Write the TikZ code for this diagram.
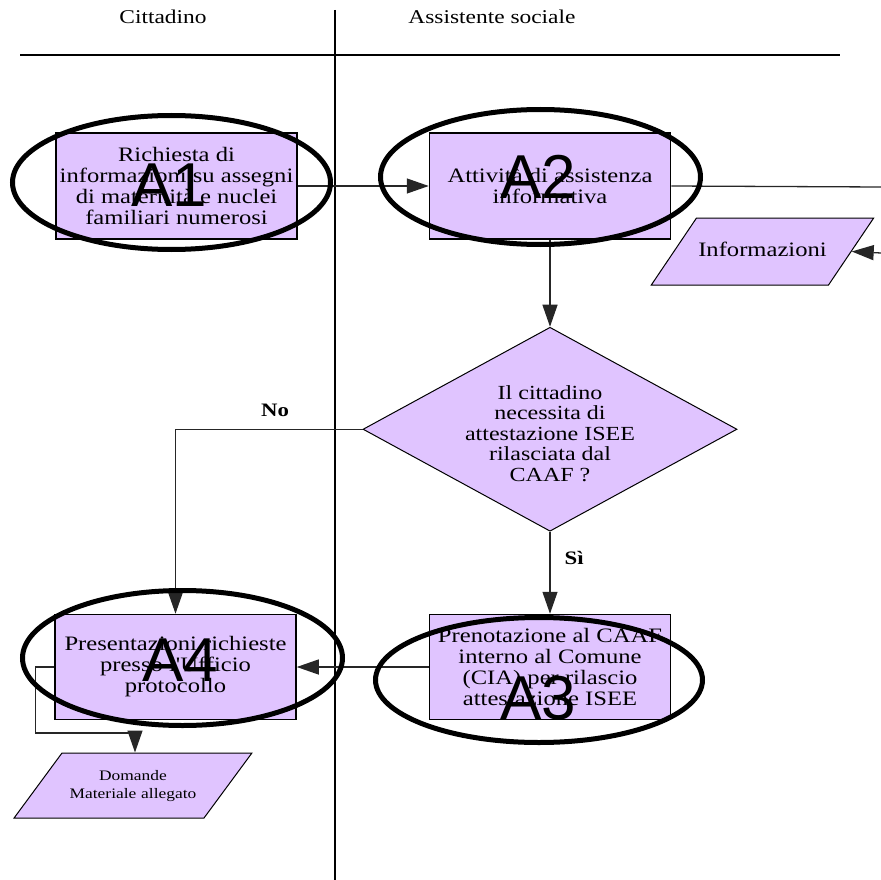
\documentclass[tikz,border=0pt]{standalone}
\usepackage{fontspec}
\setmainfont{Liberation Serif}
\newfontfamily\boxfont{Liberation Serif}[FakeStretch=1.2]
\newfontfamily\tagfont{Liberation Sans}
\usetikzlibrary{positioning,shapes.geometric,arrows.meta,calc}
\definecolor{lilla}{RGB}{224,196,255}

\begin{document}
\begin{tikzpicture}[x=1pt,y=-1pt,>={Triangle[length=22pt,width=15pt]},
    attiv/.style={fill=lilla,draw=black,line width=1.5pt,minimum width=241pt,minimum height=106pt,inner sep=0pt,align=center,font=\boxfont\fontsize{20.5}{21}\selectfont},
    scelta/.style={diamond,fill=lilla,draw=black,line width=1pt,minimum width=374pt,minimum height=204pt,inner sep=0pt},
    dato/.style={trapezium,fill=lilla,draw=black,line width=1pt,inner xsep=0pt,align=center},
    anello/.style={ellipse,draw=black,line width=5pt,inner sep=0pt},
    sigla/.style={font=\tagfont\fontsize{62}{62}\selectfont,inner sep=0pt},
    etic/.style={font=\boxfont\bfseries\fontsize{19}{19}\selectfont,inner sep=0pt},
    flusso/.style={->,draw=black!85,line width=1.3pt},
    corsia/.style={draw=black,line width=1.3pt}]
%
   \useasboundingbox (0,0) rectangle (881,880);
   % corsie
   \node[font=\boxfont\fontsize{19.5}{20}\selectfont] (L1) at (163,17) {Cittadino};
   \node[font=\boxfont\fontsize{19.5}{20}\selectfont] (L2) at (492,17) {Assistente sociale};
   \draw[corsia] (20,55) -- (840,55);
   \draw[corsia] (335,10) -- (335,880);
%
   \node[attiv]         (A1) at (176.5,186) {Richiesta di\\informazioni su assegni\\di maternità e nuclei\\familiari numerosi};
   \node[attiv]         (A2) [right=131pt of A1] {Attività di assistenza\\informativa};
   \node[scelta]        (D)  [below=87pt of A2] {};
   \node[align=center,font=\boxfont\fontsize{20}{20.5}\selectfont] (Dt) at ([yshift=-4pt]D.center) {Il cittadino\\necessita di\\attestazione ISEE\\rilasciata dal\\CAAF ?};
   \node[attiv,minimum height=105pt] (A3) [below=82pt of D] {Prenotazione al CAAF\\interno al Comune\\(CIA) per rilascio\\attestazione ISEE};
   \node[attiv,minimum height=105pt] (A4) [left=132pt of A3] {Presentazioni richieste\\presso l'Ufficio\\protocollo};
   \node[dato,text width=132pt,text height=14pt,text depth=4pt,inner ysep=24.5pt,
         trapezium left angle=56,trapezium right angle=124,
         font=\boxfont\fontsize{20.5}{21}\selectfont] (I) at (762.5,251.5) {Informazioni};
   \node[dato,text width=142pt,text height=11pt,text depth=21pt,inner ysep=16.5pt,
         trapezium left angle=53.6,trapezium right angle=126.4,
         font=\boxfont\fontsize{14.5}{18}\selectfont] (M) at (133,785.5) {Domande\\Materiale allegato};
%
   \coordinate (bordoA) at (881,187);
   \coordinate (bordoB) at (881,253);
   \coordinate (giro) at (135,733);
   \draw[flusso] (A1) -- (A2);
   \draw[flusso,-] (A2.east) -- (bordoA);
   \draw[flusso] (bordoB) -- ($(I.top right corner)!0.5!(I.bottom right corner)$);
   \draw[flusso] (A2) -- (D);
   \draw[flusso] (D.west) -| node[pos=0.25,above=12pt,etic,xshift=6pt] {No} (A4.north);
   \draw[flusso] (D.south) -- node[pos=0.32,right=14pt,etic] {Sì} (A3.north);
   \draw[flusso] (A3) -- (A4);
   \draw[flusso] (A4.west) -- ++(-19,0) |- (giro) -- (giro |- M.north);
%
   \node[anello,minimum width=318pt,minimum height=134pt] (E1) at (171.5,182.5) {};
   \node[anello,minimum width=320pt,minimum height=135pt] (E2) at (540.5,177) {};
   \node[anello,minimum width=327pt,minimum height=125pt] (E3) at (539,680) {};
   \node[anello,minimum width=320pt,minimum height=135pt] (E4) at (182.5,658) {};
   \node[sigla] (T1) at (169,185) {A1};
   \node[sigla] (T2) at (538,177) {A2};
   \node[sigla] (T3) at (538,698) {A3};
   \node[sigla] (T4) at (180,660) {A4};
\end{tikzpicture}
\end{document}
